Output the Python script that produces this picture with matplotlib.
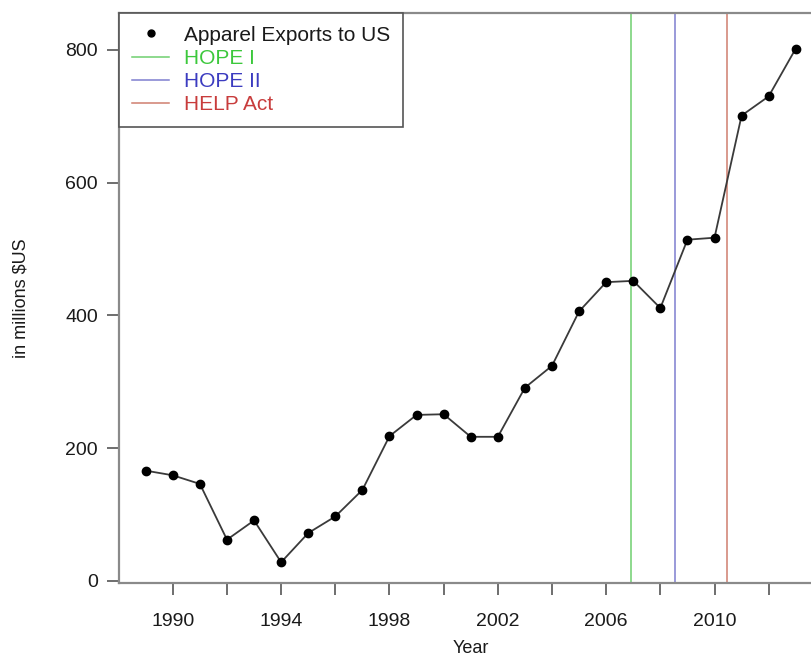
import matplotlib
matplotlib.use("Agg")
import matplotlib.pyplot as plt
from matplotlib.lines import Line2D

plt.rcParams['font.family'] = ['Liberation Sans', 'DejaVu Sans']

# values
years = [1989, 1990, 1991, 1992, 1993, 1994, 1995, 1996, 1997, 1998, 1999, 2000,
         2001, 2002, 2003, 2004, 2005, 2006, 2007, 2008, 2009, 2010, 2011, 2012, 2013]
exports = [166, 159, 146, 62, 91, 28, 72, 97, 137, 218, 250, 251,
           217, 217, 291, 324, 406, 450, 452, 411, 514, 517, 701, 730, 802]

policy_names = ['HOPE I', 'HOPE II', 'HELP Act']
policy_years = [2006.92, 2008.54, 2010.47]
line_colors = ['#6fcf6f', '#7f7fcf', '#cf7f6f']
text_colors = ['#3cc83c', '#3c3cc0', '#c83c3c']

xtick_pos = list(range(1990, 2013, 2))
xtick_labels = ['1990', '', '1994', '', '1998', '', '2002', '', '2006', '', '2010', '']
ytick_pos = [0, 200, 400, 600, 800]

fig = plt.figure(figsize=(8.11, 6.59), dpi=100)
ax = fig.add_axes([0.1473, 0.1146, 0.8663, 0.8661])

ax.plot(years, exports, color='#3a3a3a', lw=1.3, marker='o', ms=6,
        mfc='black', mec='black', zorder=3)
for yr, c in zip(policy_years, line_colors):
    ax.axvline(yr, color=c, lw=1.1, zorder=2)

ax.set_xlim(1988.03, 2013.97)
ax.set_ylim(-4, 856)
ax.set_xticks(xtick_pos)
ax.set_xticklabels(xtick_labels)
ax.set_yticks(ytick_pos)
ax.tick_params(axis='both', length=8.5, width=1.2, color='#555555',
               labelsize=14, labelcolor='#1a1a1a')
ax.tick_params(axis='x', pad=13)
ax.tick_params(axis='y', pad=7)
for s in ax.spines.values():
    s.set_color('#8a8a8a')
    s.set_linewidth(1.6)

ax.set_xlabel('Year', fontsize=13, color='#1a1a1a', labelpad=7)
ax.set_ylabel('in millions $US', fontsize=13, color='#1a1a1a', labelpad=26)

handles = [Line2D([], [], ls='none', marker='o', ms=5, color='black')]
handles += [Line2D([], [], color=c, lw=1.1) for c in line_colors]
leg = ax.legend(handles, ['Apparel Exports to US'] + policy_names,
                loc='upper left', bbox_to_anchor=(0, 1), borderaxespad=0,
                fontsize=15, frameon=True, fancybox=False, edgecolor='#555555',
                framealpha=1, handlelength=1.76, handletextpad=0.72,
                borderpad=0.62, labelspacing=0.2)
leg.get_frame().set_linewidth(1.2)
for t, c in zip(leg.get_texts(), ['#1a1a1a'] + text_colors):
    t.set_color(c)

fig.savefig('out.png', dpi=100)
